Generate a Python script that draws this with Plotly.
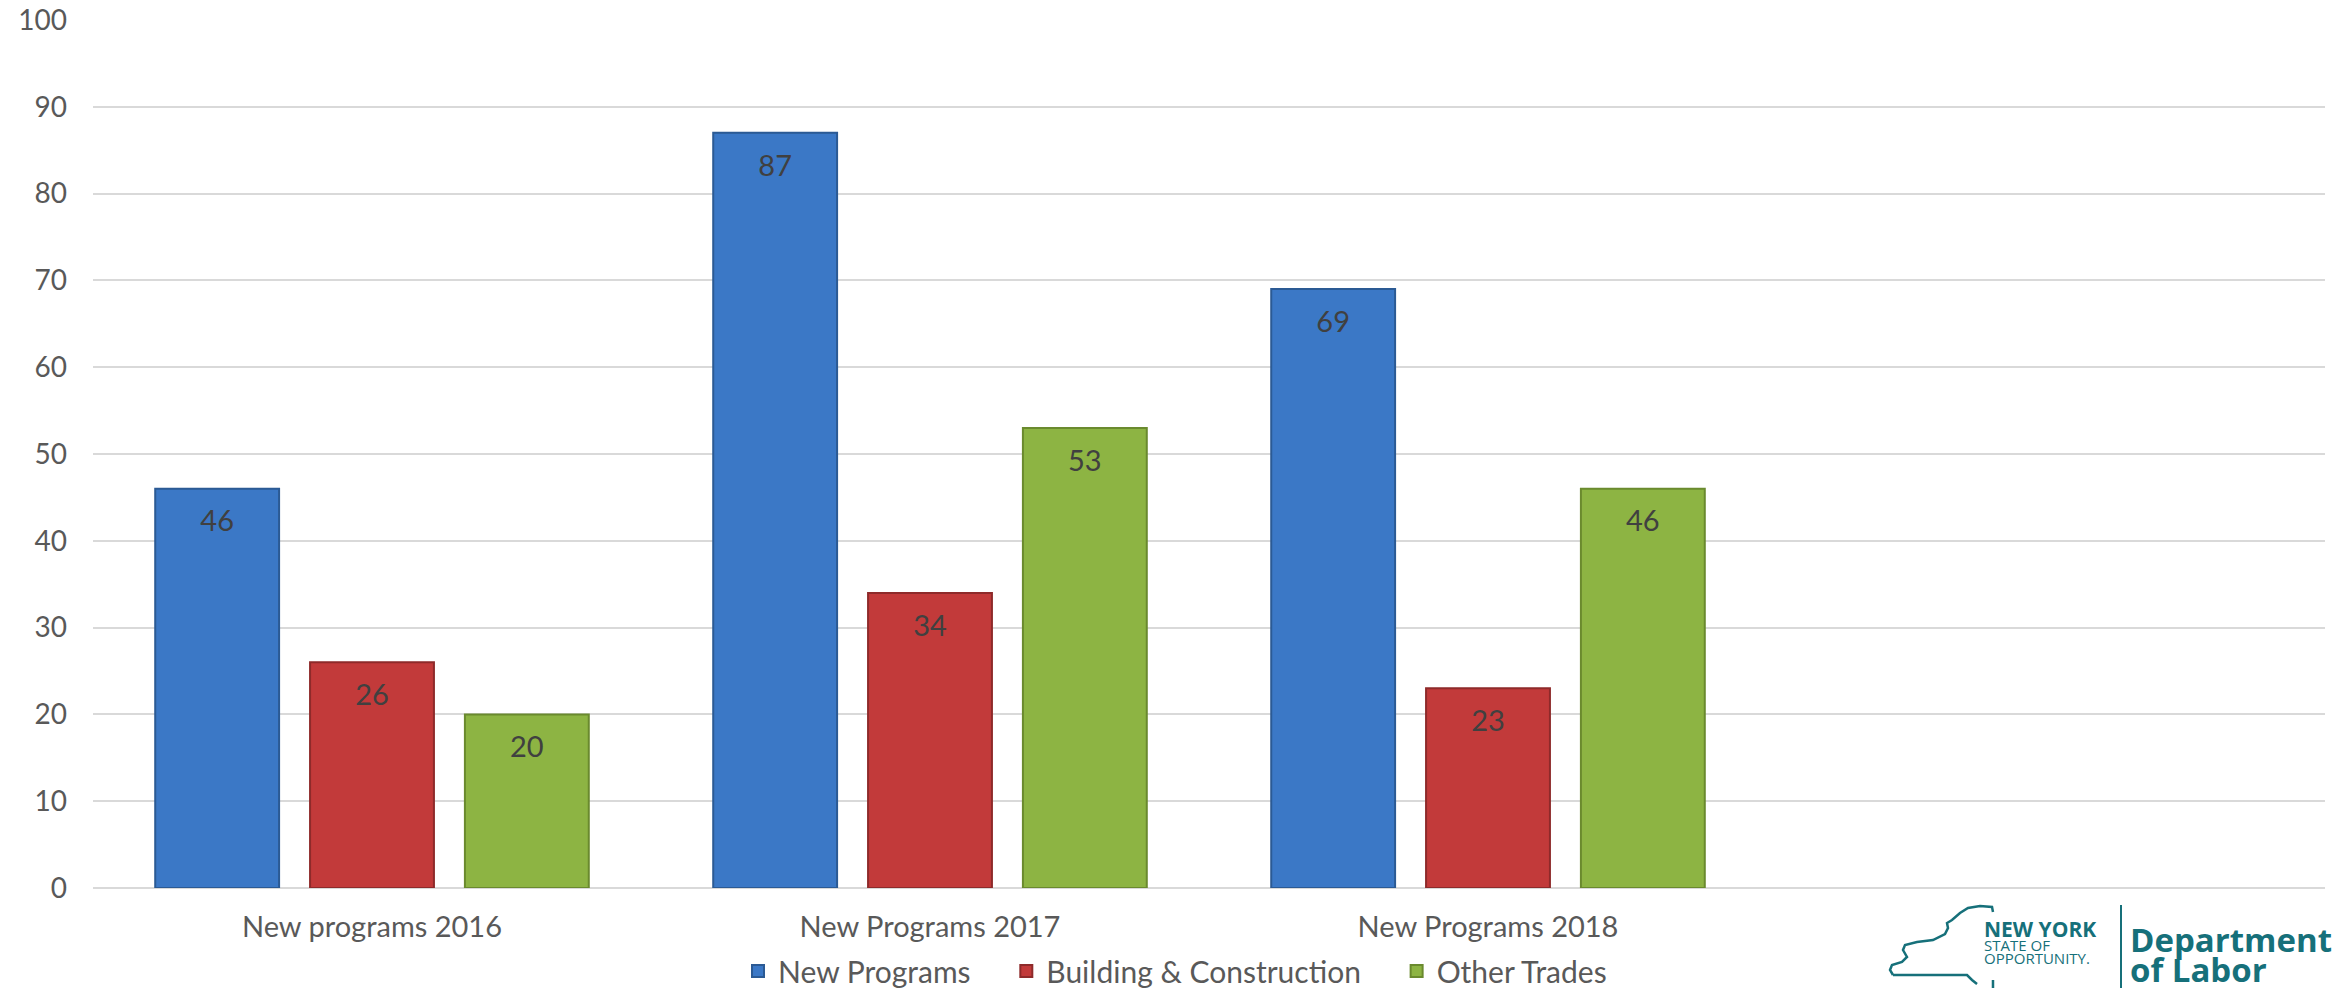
import plotly.graph_objects as go

categories = ["New programs 2016", "New Programs 2017", "New Programs 2018", " "]
series_names = ["New Programs", "Building & Construction", "Other Trades"]
new_programs = [46, 87, 69, None]
building_construction = [26, 34, 23, None]
other_trades = [20, 53, 46, None]
y_ticks = [0, 10, 20, 30, 40, 50, 60, 70, 80, 90, 100]

colors = ["#3b78c6", "#c23a3a", "#8db443"]
edge = ["#2b5a94", "#8e2a2a", "#6a8a2e"]
values = [new_programs, building_construction, other_trades]

FONT = "Lato"
GAP = 0.1675
W, H = 2344, 988
ML, MR, MT, MB = 93, 19, 20, 100
PW, PH = W - ML - MR, H - MT - MB


def px(x):
    return (x - ML) / PW


def py(y):
    return (H - MB - y) / PH


PAD = "\u00a0" * 4
fig = go.Figure()
for i, (name, vals, c, e) in enumerate(zip(series_names, values, colors, edge)):
    fig.add_trace(go.Bar(
        x=categories, y=vals, name=name + (PAD if i < 2 else ""), offsetgroup=str(i),
        marker=dict(color=c, line=dict(color=e, width=2)),
    ))
for i, vals in enumerate(values):
    fig.add_trace(go.Scatter(
        x=categories, y=vals, mode="markers+text", offsetgroup=str(i),
        marker=dict(size=32, opacity=0),
        text=[str(v) if v is not None else "" for v in vals],
        textposition="bottom center",
        textfont=dict(family=FONT, size=29, color="#404040"),
        showlegend=False, hoverinfo="skip",
    ))

fig.update_layout(
    width=W, height=H,
    paper_bgcolor="white", plot_bgcolor="white",
    margin=dict(l=ML, r=MR, t=MT, b=MB),
    barmode="group", bargap=GAP, bargroupgap=0.2,
    scattermode="group", scattergap=GAP,
    font=dict(family=FONT, size=28, color="#595959"),
    showlegend=True,
    legend=dict(orientation="h", xref="container", yref="container",
                x=1175 / W, xanchor="center", y=(H - 971) / H, yanchor="middle",
                font=dict(family=FONT, size=30, color="#595959"),
                itemwidth=30, traceorder="normal"),
)
fig.update_yaxes(range=[0, 100], tickvals=y_ticks, showgrid=True, gridcolor="#d9d9d9",
                 gridwidth=2, zeroline=True, zerolinecolor="#d9d9d9", zerolinewidth=2,
                 tickfont=dict(family=FONT, size=28, color="#595959"), ticks="",
                 ticklabelstandoff=25, automargin=False)
fig.update_xaxes(showline=False, ticks="", tickfont=dict(family=FONT, size=29, color="#595959"),
                 ticklabelstandoff=19, automargin=False)

# logo
teal = "#16707a"
fig.add_annotation(xref="paper", yref="paper", x=px(2128), y=py(939), xanchor="left", yanchor="middle",
                   text="<b>Department</b>", showarrow=False,
                   font=dict(family="Open Sans", size=33, color=teal))
fig.add_annotation(xref="paper", yref="paper", x=px(2128), y=py(969), xanchor="left", yanchor="middle",
                   text="<b>of Labor</b>", showarrow=False,
                   font=dict(family="Open Sans", size=33, color=teal))
fig.add_annotation(xref="paper", yref="paper", x=px(1982), y=py(929), xanchor="left", yanchor="middle",
                   text="<b>NEW YORK</b>", showarrow=False,
                   font=dict(family="Open Sans", size=21, color=teal))
fig.add_annotation(xref="paper", yref="paper", x=px(1982), y=py(945), xanchor="left", yanchor="middle",
                   text="STATE OF", showarrow=False,
                   font=dict(family="Open Sans", size=15, color=teal))
fig.add_annotation(xref="paper", yref="paper", x=px(1982), y=py(958), xanchor="left", yanchor="middle",
                   text="OPPORTUNITY.", showarrow=False,
                   font=dict(family="Open Sans", size=15, color=teal))
fig.add_shape(type="line", xref="paper", yref="paper", x0=px(2121), x1=px(2121), y0=py(905), y1=py(988),
              line=dict(color=teal, width=2))

outline = [(1893, 975), (1890, 970), (1892, 965), (1902, 962), (1907, 957), (1903, 950), (1905, 945),
           (1917, 942), (1933, 940), (1945, 934), (1948, 928), (1947, 923), (1952, 920), (1960, 913),
           (1968, 908), (1980, 906), (1992, 907), (1993, 912)]
base = [(1893, 975), (1967, 975), (1972, 980), (1977, 984)]
tail = [(1993, 980), (1993, 988)]


def sub(pts):
    return "M" + " L".join(f"{px(a):.5f},{py(b):.5f}" for a, b in pts)


fig.add_shape(type="path", xref="paper", yref="paper",
              path=" ".join(sub(p) for p in (outline, base, tail)),
              line=dict(color=teal, width=2.5), fillcolor="rgba(0,0,0,0)")

fig.write_html("out.html", config={"displayModeBar": False},
               post_script="document.body.style.margin='0';document.body.style.overflow='hidden';")
